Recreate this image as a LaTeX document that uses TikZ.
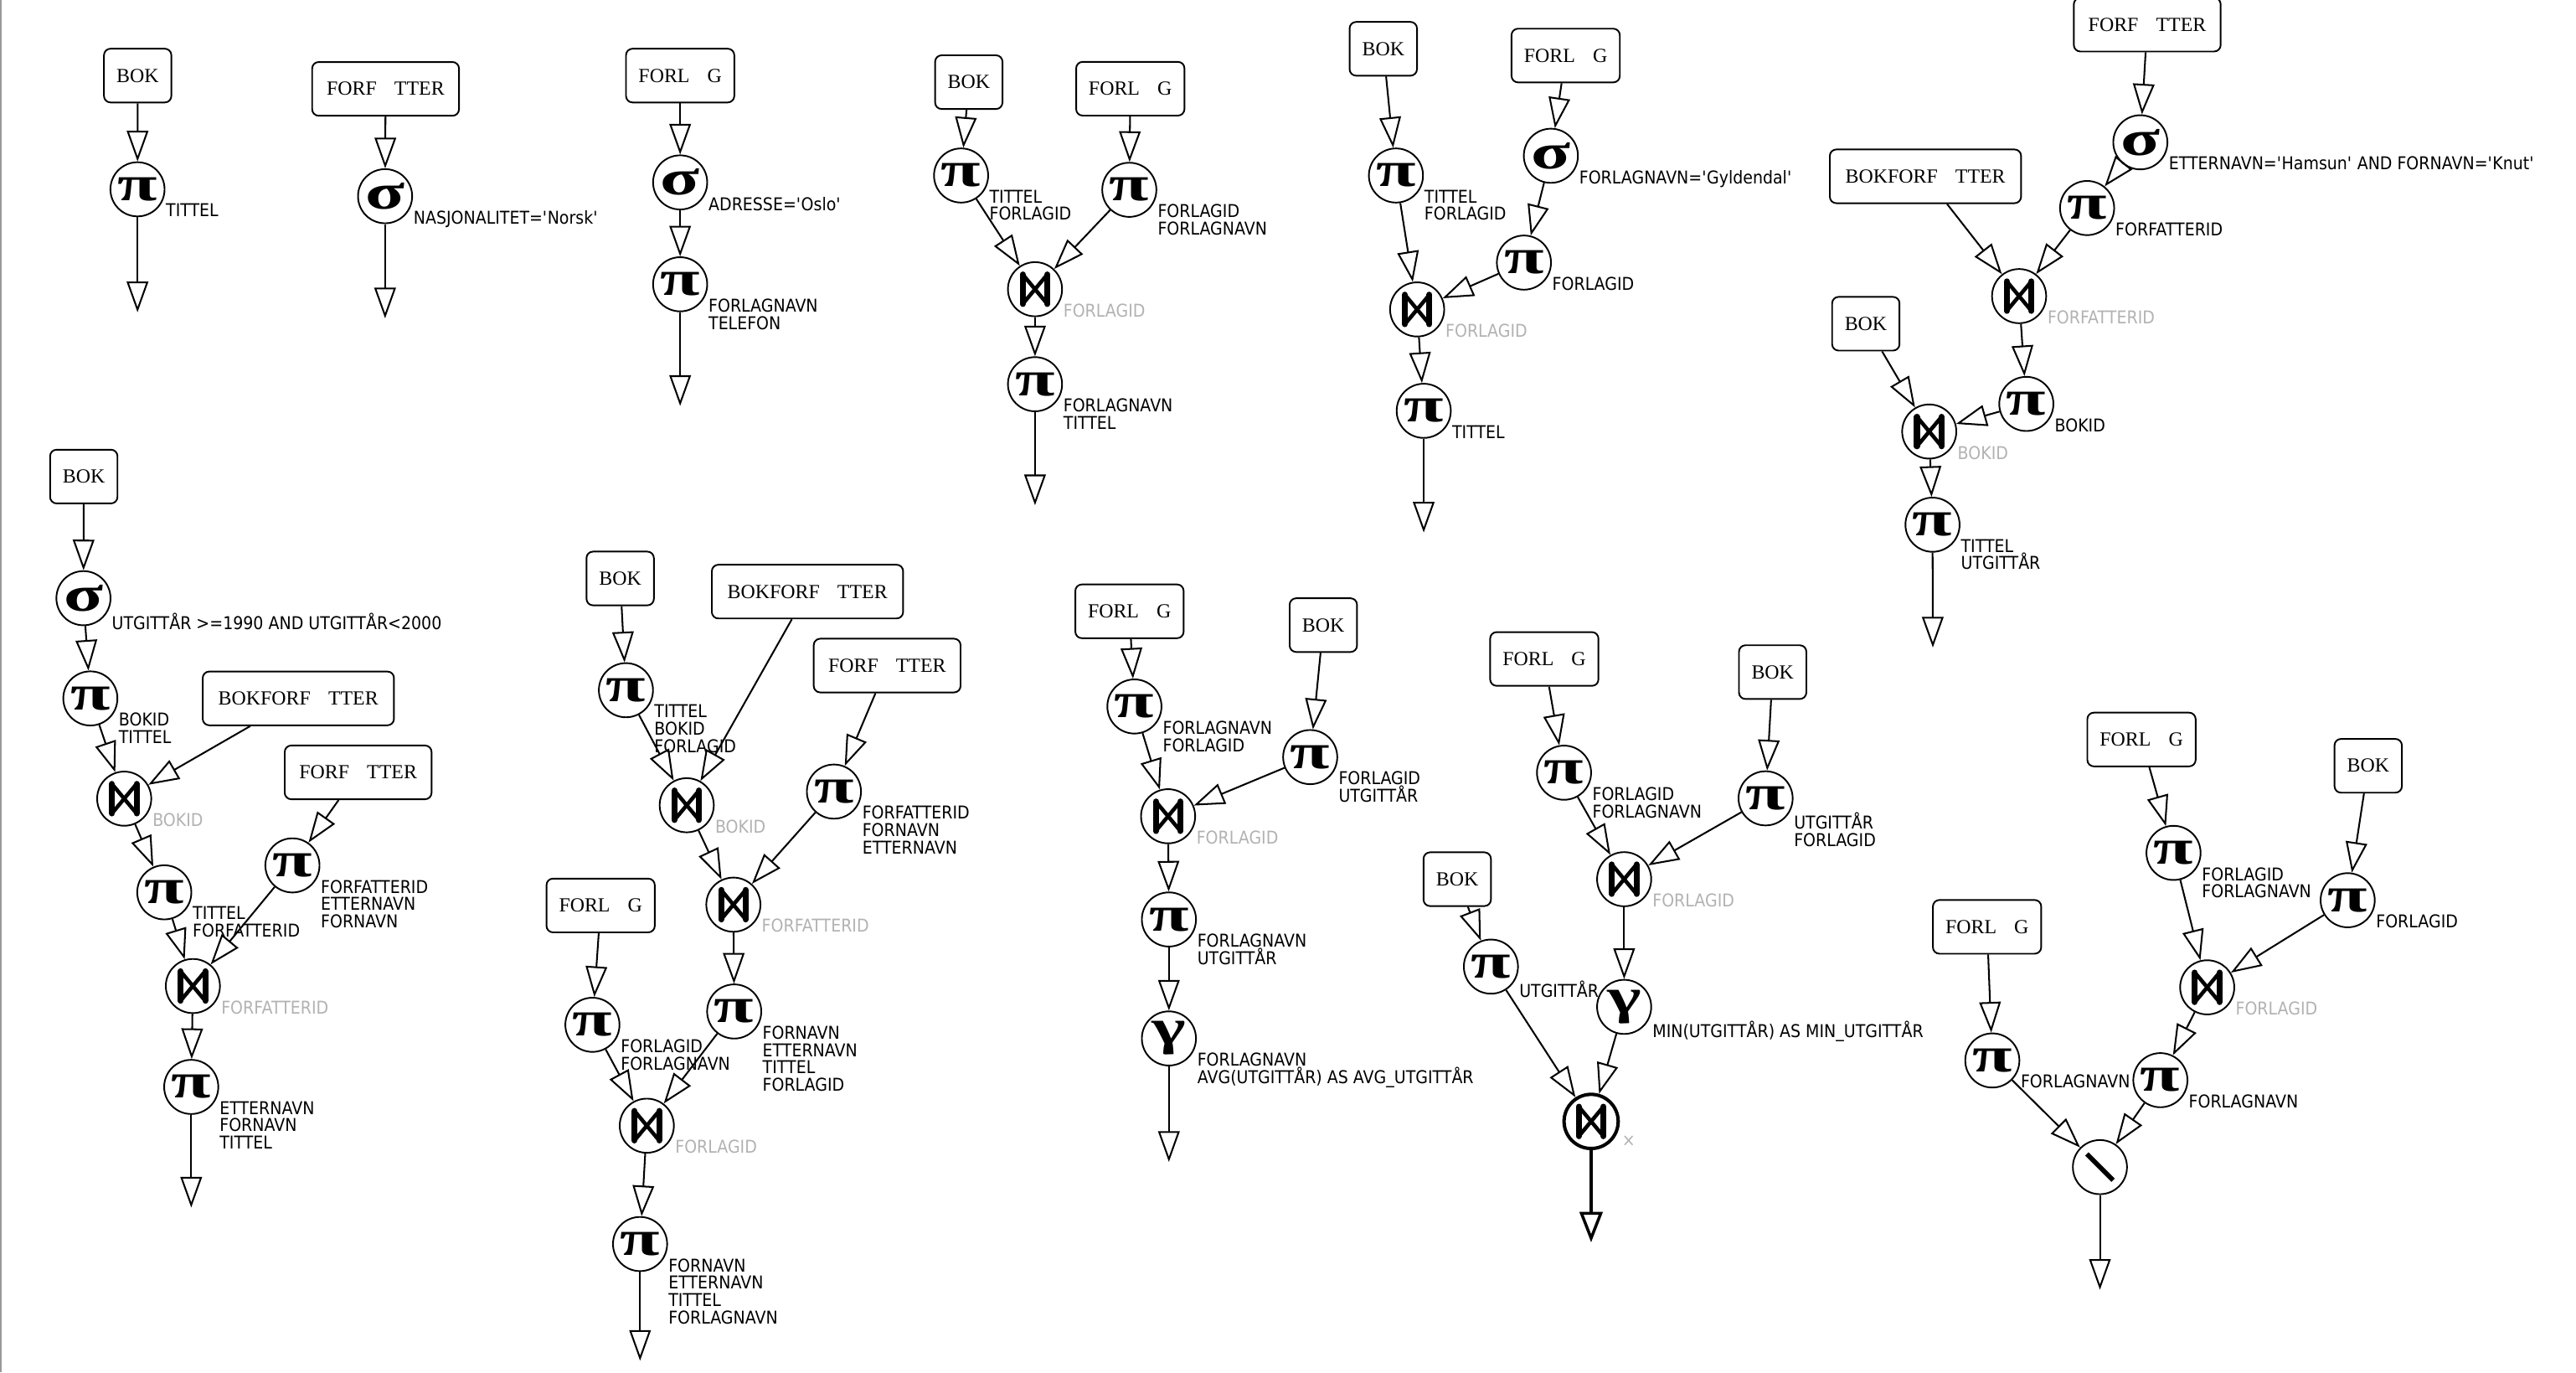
\documentclass[tikz,border=0pt]{standalone}
\usepackage{fontspec}
\setmainfont{Liberation Serif}
\newfontfamily\lblfont{DejaVu Sans}[FakeStretch=0.9]
\newfontfamily\grkfont{Liberation Serif}[FakeStretch=1.45]
\usetikzlibrary{arrows.meta,calc}
\newcommand\qq{\textquotesingle}
\begin{document}
\begin{tikzpicture}[x=0.0196173cm, y=-0.0196173cm,
  rel/.style={draw, rounded corners=2.2pt, line width=0.55pt, font=\fontsize{6.8}{8}\selectfont, inner xsep=4pt, inner ysep=2pt, minimum height=18.25pt},
  relbok/.style={rel, minimum width=22.9pt},
  relforf/.style={rel, minimum width=49.9pt},
  relforl/.style={rel, minimum width=36.8pt},
  relbf/.style={rel, minimum width=65pt},
  op/.style={draw, circle, minimum size=18.4pt, inner sep=0pt, line width=0.55pt, font=\grkfont\bfseries\fontsize{17}{17}\selectfont},
  joinop/.style={op, path picture={
      \draw[shift={(path picture bounding box.center)}, line width=1.3pt, line join=round] (-7.5,-9) -- (7.5,9) (-7.5,9) -- (7.5,-9);
      \draw[shift={(path picture bounding box.center)}, line width=2pt, line cap=round] (-7.5,-9) -- (-7.5,9) (7.5,-9) -- (7.5,9);}},
  joinbold/.style={joinop, line width=1.15pt},
  diffop/.style={op, path picture={\draw[shift={(path picture bounding box.center)}, line width=1.6pt] (-8,-8) -- (8,8);}},
  lab/.style={anchor=north west, inner sep=0pt, align=left, font=\lblfont\fontsize{6}{5.9}\selectfont},
  glab/.style={lab, text=black!30},
  flow/.style={line width=0.58pt, -{Triangle[open, length=10.4pt, width=7.3pt]}},
  flowbold/.style={line width=1pt, -{Triangle[open, length=10.4pt, width=7.8pt]}}
]
\useasboundingbox (0,0) rectangle (1568,835);
\draw[black!40, line width=0.6pt] (0.6,0) -- (0.6,835);

% ---------- Tree 1
\node[relbok] (b1) at (83.8,46) {BOK};
\node[op] (p1) at (83.7,115.2) {π};
\coordinate (o1) at (83.7,190);
\node[lab] (p1l) at ([shift={(0,8.5)}]p1.east) {TITTEL};
\draw[flow] (b1) -- (p1);
\draw[flow] (p1) -- (o1);

% ---------- Tree 2
\node[relforf] (f2) at (234.7,54.1) {FORF\hspace{6pt}TTER};
\node[op] (s2) at (234.4,119.4) {σ};
\coordinate (o2) at (234.4,193.7);
\node[lab] (s2l) at ([shift={(0,8.5)}]s2.east) {NASJONALITET=\qq Norsk\qq};
\draw[flow] (f2) -- (s2);
\draw[flow] (s2) -- (o2);

% ---------- Tree 3
\node[relforl] (g3) at (414,46) {FORL\hspace{6pt}G};
\node[op] (s3) at (414,111) {σ};
\node[op] (p3) at (414,173) {π};
\coordinate (o3) at (414,247);
\node[lab] (s3l) at ([shift={(0,8.5)}]s3.east) {ADRESSE=\qq Oslo\qq};
\node[lab] (p3l) at ([shift={(0,8.5)}]p3.east) {FORLAGNAVN\\TELEFON};
\draw[flow] (g3) -- (s3);
\draw[flow] (s3) -- (p3);
\draw[flow] (p3) -- (o3);

% ---------- Tree 4
\node[relbok] (b4) at (589.7,50) {BOK};
\node[relforl] (g4) at (688,54) {FORL\hspace{6pt}G};
\node[op] (p4a) at (585,106.8) {π};
\node[op] (p4b) at (687.4,115.5) {π};
\node[joinop] (j4) at (630,176) {};
\node[op] (p4c) at (630,233.8) {π};
\coordinate (o4) at (630,307.4);
\node[lab] (p4al) at ([shift={(0,8.5)}]p4a.east) {TITTEL\\FORLAGID};
\node[lab] (p4bl) at ([shift={(0,8.5)}]p4b.east) {FORLAGID\\FORLAGNAVN};
\node[glab] (j4l) at ([shift={(0,8.5)}]j4.east) {FORLAGID};
\node[lab] (p4cl) at ([shift={(0,8.5)}]p4c.east) {FORLAGNAVN\\TITTEL};
\draw[flow] (b4) -- (p4a);
\draw[flow] (g4) -- (p4b);
\draw[flow] (p4a) -- (j4);
\draw[flow] (p4b) -- (j4);
\draw[flow] (j4) -- (p4c);
\draw[flow] (p4c) -- (o4);

% ---------- Tree 5
\node[relbok] (b5) at (842,29.7) {BOK};
\node[relforl] (g5) at (953,33.8) {FORL\hspace{6pt}G};
\node[op] (s5) at (944,94.8) {σ};
\node[op] (p5a) at (849.7,106.8) {π};
\node[op] (p5b) at (927.6,159.8) {π};
\node[joinop] (j5) at (862.6,188.3) {};
\node[op] (p5c) at (866.6,250) {π};
\coordinate (o5) at (866.6,324);
\node[lab] (p5al) at ([shift={(0,8.5)}]p5a.east) {TITTEL\\FORLAGID};
\node[lab] (s5l) at ([shift={(0,8.5)}]s5.east) {FORLAGNAVN=\qq Gyldendal\qq};
\node[lab] (p5bl) at ([shift={(0,8.5)}]p5b.east) {FORLAGID};
\node[glab] (j5l) at ([shift={(0,8.5)}]j5.east) {FORLAGID};
\node[lab] (p5cl) at ([shift={(0,8.5)}]p5c.east) {TITTEL};
\draw[flow] (b5) -- (p5a);
\draw[flow] (g5) -- (s5);
\draw[flow] (s5) -- (p5b);
\draw[flow] (p5a) -- (j5);
\draw[flow] (p5b) -- (j5);
\draw[flow] (j5) -- (p5c);
\draw[flow] (p5c) -- (o5);

% ---------- Tree 6
\node[relforf] (f6) at (1307,15) {FORF\hspace{6pt}TTER};
\node[op] (s6) at (1302.8,86.6) {σ};
\node[op] (p6a) at (1270.4,126.6) {π};
\node[relbf] (bf6) at (1172,107.3) {BOKFORF\hspace{6pt}TTER};
\node[joinop] (j6a) at (1229,180.2) {};
\node[op] (p6b) at (1233.4,245.8) {π};
\node[relbok] (b6) at (1135.7,197) {BOK};
\node[joinop] (j6b) at (1174.3,262.6) {};
\node[op] (p6c) at (1176.3,319.3) {π};
\coordinate (o6) at (1176.5,394);
\node[lab] (s6l) at ([shift={(0,8.5)}]s6.east) {ETTERNAVN=\qq Hamsun\qq{} AND FORNAVN=\qq Knut\qq};
\node[lab] (p6al) at ([shift={(0,8.5)}]p6a.east) {FORFATTERID};
\node[glab] (j6al) at ([shift={(0,8.5)}]j6a.east) {FORFATTERID};
\node[lab] (p6bl) at ([shift={(0,8.5)}]p6b.east) {BOKID};
\node[glab] (j6bl) at ([shift={(0,8.5)}]j6b.east) {BOKID};
\node[lab] (p6cl) at ([shift={(0,8.5)}]p6c.east) {TITTEL\\UTGITTÅR};
\draw[flow] (f6) -- (s6);
\draw[flow] (s6) -- (p6a);
\draw[flow] (bf6) -- (j6a);
\draw[flow] (p6a) -- (j6a);
\draw[flow] (j6a) -- (p6b);
\draw[flow] (b6) -- (j6b);
\draw[flow] (p6b) -- (j6b);
\draw[flow] (j6b) -- (p6c);
\draw[flow] (p6c) -- (o6);

% ---------- Tree 7
\node[relbok] (b7) at (51,290) {BOK};
\node[op] (s7) at (50.8,364) {σ};
\node[op] (p7a) at (55,425) {π};
\node[relbf] (bf7) at (181.6,425) {BOKFORF\hspace{6pt}TTER};
\node[joinop] (j7a) at (75.6,486) {};
\node[op] (p7b) at (100,543) {π};
\node[relforf] (f7) at (218,470) {FORF\hspace{6pt}TTER};
\node[op] (p7c) at (178,526.6) {π};
\node[joinop] (j7b) at (117.4,600) {};
\node[op] (p7d) at (116.4,661.4) {π};
\coordinate (o7) at (116.4,734.8);
\node[lab] (s7l) at ([shift={(0,8.5)}]s7.east) {UTGITTÅR >=1990 AND UTGITTÅR<2000};
\node[lab] (p7al) at ([shift={(0,8.5)}]p7a.east) {BOKID\\TITTEL};
\node[glab] (j7al) at ([shift={(0,8.5)}]j7a.east) {BOKID};
\node[lab] (p7bl) at ([shift={(0,8.5)}]p7b.east) {TITTEL\\FORFATTERID};
\node[lab] (p7cl) at ([shift={(0,8.5)}]p7c.east) {FORFATTERID\\ETTERNAVN\\FORNAVN};
\node[glab] (j7bl) at ([shift={(0,8.5)}]j7b.east) {FORFATTERID};
\node[lab] (p7dl) at ([shift={(0,8.5)}]p7d.east) {ETTERNAVN\\FORNAVN\\TITTEL};
\draw[flow] (b7) -- (s7);
\draw[flow] (s7) -- (p7a);
\draw[flow] (p7a) -- (j7a);
\draw[flow] (bf7) -- (j7a);
\draw[flow] (j7a) -- (p7b);
\draw[flow] (f7) -- (p7c);
\draw[flow] (p7b) -- (j7b);
\draw[flow] (p7c) -- (j7b);
\draw[flow] (j7b) -- (p7d);
\draw[flow] (p7d) -- (o7);

% ---------- Tree 8
\node[relbok] (b8) at (377.5,352) {BOK};
\node[op] (p8a) at (381,420) {π};
\node[relbf] (bf8) at (491.5,360) {BOKFORF\hspace{6pt}TTER};
\node[joinop] (j8a) at (418,490) {};
\node[relforf] (f8) at (540,405) {FORF\hspace{6pt}TTER};
\node[op] (p8b) at (507.6,481.7) {π};
\node[joinop] (j8b) at (446.4,550.5) {};
\node[relforl] (g8) at (365.6,551) {FORL\hspace{6pt}G};
\node[op] (p8d) at (360.6,623.6) {π};
\node[op] (p8c) at (446.9,615.5) {π};
\node[joinop] (j8c) at (393.7,685) {};
\node[op] (p8e) at (389.6,757) {π};
\coordinate (o8) at (389.6,828);
\node[lab] (p8al) at ([shift={(0,8.5)}]p8a.east) {TITTEL\\BOKID\\FORLAGID};
\node[glab] (j8al) at ([shift={(0,8.5)}]j8a.east) {BOKID};
\node[lab] (p8bl) at ([shift={(0,8.5)}]p8b.east) {FORFATTERID\\FORNAVN\\ETTERNAVN};
\node[glab] (j8bl) at ([shift={(0,8.5)}]j8b.east) {FORFATTERID};
\node[lab] (p8dl) at ([shift={(0,8.5)}]p8d.east) {FORLAGID\\FORLAGNAVN};
\node[lab] (p8cl) at ([shift={(0,8.5)}]p8c.east) {FORNAVN\\ETTERNAVN\\TITTEL\\FORLAGID};
\node[glab] (j8cl) at ([shift={(0,8.5)}]j8c.east) {FORLAGID};
\node[lab] (p8el) at ([shift={(0,8.5)}]p8e.east) {FORNAVN\\ETTERNAVN\\TITTEL\\FORLAGNAVN};
\draw[flow] (b8) -- (p8a);
\draw[flow] (p8a) -- (j8a);
\draw[flow] (bf8) -- (j8a);
\draw[flow] (f8) -- (p8b);
\draw[flow] (j8a) -- (j8b);
\draw[flow] (p8b) -- (j8b);
\draw[flow] (j8b) -- (p8c);
\draw[flow] (g8) -- (p8d);
\draw[flow] (p8d) -- (j8c);
\draw[flow] (p8c) -- (j8c);
\draw[flow] (j8c) -- (p8e);
\draw[flow] (p8e) -- (o8);

% ---------- Tree 9
\node[relforl] (g9) at (687.5,372) {FORL\hspace{6pt}G};
\node[relbok] (b9) at (805.5,380.4) {BOK};
\node[op] (p9a) at (690.5,429.9) {π};
\node[op] (p9b) at (797.5,460.7) {π};
\node[joinop] (j9) at (711,496.7) {};
\node[op] (p9c) at (711.5,559.5) {π};
\node[op] (y9) at (711.5,631.9) {γ};
\coordinate (o9) at (711.5,707);
\node[lab] (p9al) at ([shift={(0,8.5)}]p9a.east) {FORLAGNAVN\\FORLAGID};
\node[lab] (p9bl) at ([shift={(0,8.5)}]p9b.east) {FORLAGID\\UTGITTÅR};
\node[glab] (j9l) at ([shift={(0,8.5)}]j9.east) {FORLAGID};
\node[lab] (p9cl) at ([shift={(0,8.5)}]p9c.east) {FORLAGNAVN\\UTGITTÅR};
\node[lab] (y9l) at ([shift={(0,8.5)}]y9.east) {FORLAGNAVN\\AVG(UTGITTÅR) AS AVG\_UTGITTÅR};
\draw[flow] (g9) -- (p9a);
\draw[flow] (b9) -- (p9b);
\draw[flow] (p9a) -- (j9);
\draw[flow] (p9b) -- (j9);
\draw[flow] (j9) -- (p9c);
\draw[flow] (p9c) -- (y9);
\draw[flow] (y9) -- (o9);

% ---------- Tree 10
\node[relforl] (g10) at (940,401) {FORL\hspace{6pt}G};
\node[relbok] (b10a) at (1079,409) {BOK};
\node[op] (p10a) at (952,470.2) {π};
\node[op] (p10b) at (1074.7,485.8) {π};
\node[joinop] (j10a) at (988.6,535) {};
\node[relbok] (b10b) at (887,535) {BOK};
\node[op] (p10c) at (907.5,588.2) {π};
\node[op] (y10) at (988.6,612.7) {γ};
\node[joinbold] (j10b) at (968.5,682.4) {};
\coordinate (o10) at (968.5,756);
\node[lab] (p10al) at ([shift={(0,8.5)}]p10a.east) {FORLAGID\\FORLAGNAVN};
\node[lab] (p10bl) at ([shift={(0,8.5)}]p10b.east) {UTGITTÅR\\FORLAGID};
\node[glab] (j10al) at ([shift={(0,8.5)}]j10a.east) {FORLAGID};
\node[lab] (p10cl) at ([shift={(0,8.5)}]p10c.east) {UTGITTÅR};
\node[lab] (y10l) at ([shift={(0,8.5)}]y10.east) {MIN(UTGITTÅR) AS MIN\_UTGITTÅR};
\node[glab] (j10bl) at ([shift={(1,8.5)}]j10b.east) {×};
\draw[flow] (g10) -- (p10a);
\draw[flow] (b10a) -- (p10b);
\draw[flow] (p10a) -- (j10a);
\draw[flow] (p10b) -- (j10a);
\draw[flow] (j10a) -- (y10);
\draw[flow] (b10b) -- (p10c);
\draw[flow] (p10c) -- (j10b);
\draw[flow] (y10) -- (j10b);
\draw[flowbold] (j10b) -- (o10);

% ---------- Tree 11
\node[relforl] (g11a) at (1303.5,450) {FORL\hspace{6pt}G};
\node[relbok] (b11) at (1441.5,466) {BOK};
\node[op] (p11a) at (1323,519) {π};
\node[op] (p11b) at (1429,547.8) {π};
\node[joinop] (j11) at (1343.5,600.8) {};
\node[relforl] (g11b) at (1209.5,564) {FORL\hspace{6pt}G};
\node[op] (p11d) at (1212.7,645.3) {π};
\node[op] (p11c) at (1315,657.3) {π};
\node[diffop] (d11) at (1278.2,710.2) {};
\coordinate (o11) at (1278.2,784.8);
\node[lab] (p11al) at ([shift={(0,8.5)}]p11a.east) {FORLAGID\\FORLAGNAVN};
\node[lab] (p11bl) at ([shift={(0,8.5)}]p11b.east) {FORLAGID};
\node[glab] (j11l) at ([shift={(0,8.5)}]j11.east) {FORLAGID};
\node[lab] (p11dl) at ([shift={(0,8.5)}]p11d.east) {FORLAGNAVN};
\node[lab] (p11cl) at ([shift={(0,8.5)}]p11c.east) {FORLAGNAVN};
\draw[flow] (g11a) -- (p11a);
\draw[flow] (b11) -- (p11b);
\draw[flow] (p11a) -- (j11);
\draw[flow] (p11b) -- (j11);
\draw[flow] (j11) -- (p11c);
\draw[flow] (g11b) -- (p11d);
\draw[flow] (p11d) -- (d11);
\draw[flow] (p11c) -- (d11);
\draw[flow] (d11) -- (o11);
\end{tikzpicture}
\end{document}
